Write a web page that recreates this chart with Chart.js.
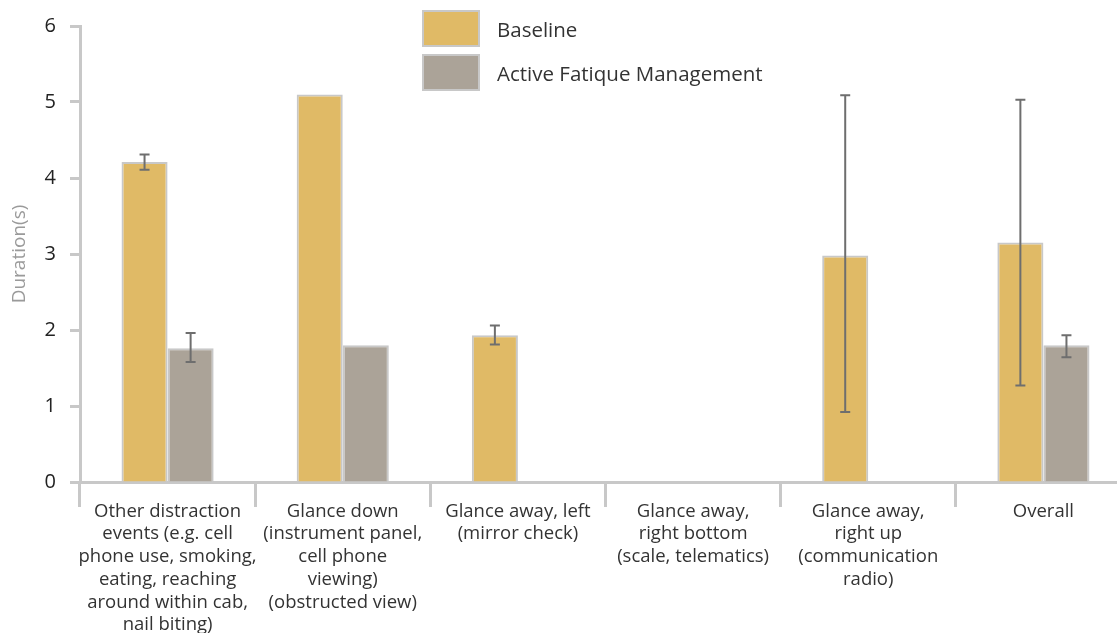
<!DOCTYPE html>
<html>
<head>
<meta charset="utf-8">
<script src="https://cdn.jsdelivr.net/npm/chart.js@4"></script>
<style>
  html, body { margin: 0; padding: 0; overflow: hidden; background: #fff; }
  #wrap { position: relative; width: 1131px; height: 633px; }
</style>
</head>
<body>
<div id="wrap"><canvas id="glanceChart"></canvas></div>
<script>
const categories = [
  ["Other distraction", "events (e.g. cell", "phone use, smoking,", "eating, reaching", "around within cab,", "nail biting)"],
  ["Glance down", "(instrument panel,", "cell phone", "viewing)", "(obstructed view)"],
  ["Glance away, left", "(mirror check)"],
  ["Glance away,", "right bottom", "(scale, telematics)"],
  ["Glance away,", "right up", "(communication", "radio)"],
  ["Overall"],
];
const baseline = [4.21, 5.1, 1.93, null, 2.98, 3.15];
const baselineLow = [4.11, null, 1.81, null, 0.92, 1.27];
const baselineHigh = [4.31, null, 2.06, null, 5.09, 5.03];
const afm = [1.76, 1.8, null, null, null, 1.8];
const afmLow = [1.58, null, null, null, null, 1.64];
const afmHigh = [1.96, null, null, null, null, 1.93];
const yTicks = [0, 1, 2, 3, 4, 5, 6];

const FONT = "'Open Sans', Lato, sans-serif";
const AXIS_GREY = "#c8c8c8";

// error bars drawn through the value scale
const errorBars = {
  id: "errorBars",
  afterDatasetsDraw(chart) {
    const ctx = chart.ctx;
    const y = chart.scales.y;
    const ranges = [[baselineLow, baselineHigh], [afmLow, afmHigh]];
    ctx.save();
    ctx.strokeStyle = "#6e6e6e";
    ctx.lineWidth = 2;
    ranges.forEach(([lo, hi], di) => {
      const meta = chart.getDatasetMeta(di);
      meta.data.forEach((bar, i) => {
        if (lo[i] == null || hi[i] == null) return;
        const x = bar.x;
        const y1 = y.getPixelForValue(lo[i]);
        const y2 = y.getPixelForValue(hi[i]);
        ctx.beginPath();
        ctx.moveTo(x, y1); ctx.lineTo(x, y2);
        ctx.moveTo(x - 5, y1); ctx.lineTo(x + 5, y1);
        ctx.moveTo(x - 5, y2); ctx.lineTo(x + 5, y2);
        ctx.stroke();
      });
    });
    ctx.restore();
  },
};

// stacked legend in the top middle
const boxLegend = {
  id: "boxLegend",
  afterDraw(chart) {
    const ctx = chart.ctx;
    ctx.save();
    chart.data.datasets.forEach((ds, i) => {
      const top = 11 + i * 44;
      ctx.fillStyle = ds.backgroundColor;
      ctx.fillRect(423, top, 56, 35);
      ctx.strokeStyle = AXIS_GREY;
      ctx.lineWidth = 2;
      ctx.strokeRect(423, top, 56, 35);
      ctx.fillStyle = "#333";
      ctx.font = "20.5px " + FONT;
      ctx.textBaseline = "middle";
      ctx.fillText(ds.label, 497, top + 20);
    });
    ctx.restore();
  },
};

new Chart(document.getElementById("glanceChart"), {
  type: "bar",
  data: {
    labels: categories,
    datasets: [
      {
        label: "Baseline",
        data: baseline,
        backgroundColor: "#e0ba66",
        borderColor: AXIS_GREY,
        borderWidth: 2,
      },
      {
        label: "Active Fatique Management",
        data: afm,
        backgroundColor: "#aba398",
        borderColor: AXIS_GREY,
        borderWidth: 2,
      },
    ],
  },
  options: {
    responsive: true,
    maintainAspectRatio: false,
    animation: false,
    layout: { padding: { top: 19, right: 0, left: 0, bottom: 0 } },
    datasets: { bar: { categoryPercentage: 0.526, barPercentage: 1 } },
    plugins: {
      legend: { display: false },
      tooltip: { enabled: false },
    },
    scales: {
      x: {
        afterFit(scale) { scale.height = 151; },
        border: { color: AXIS_GREY, width: 3 },
        grid: {
          offset: true,
          drawOnChartArea: false,
          tickLength: 25,
          tickWidth: 3,
          tickColor: AXIS_GREY,
        },
        ticks: {
          color: "#333",
          font: { family: FONT, size: 18.5, lineHeight: 1.23 },
          padding: -7,
          maxRotation: 0,
          autoSkip: false,
        },
      },
      y: {
        min: 0,
        max: 6,
        afterFit(scale) { scale.width = 80; },
        afterBuildTicks(scale) { scale.ticks = yTicks.map(v => ({ value: v })); },
        border: { color: AXIS_GREY, width: 3 },
        grid: {
          drawOnChartArea: false,
          tickLength: 10,
          tickWidth: 3,
          tickColor: AXIS_GREY,
        },
        ticks: {
          color: "#222",
          font: { family: FONT, size: 20 },
          padding: 14,
        },
        title: {
          display: true,
          text: "Duration(s)",
          color: "#9a9a9a",
          font: { family: FONT, size: 19 },
          padding: { top: 8 },
        },
      },
    },
  },
  plugins: [errorBars, boxLegend],
});
</script>
</body>
</html>
